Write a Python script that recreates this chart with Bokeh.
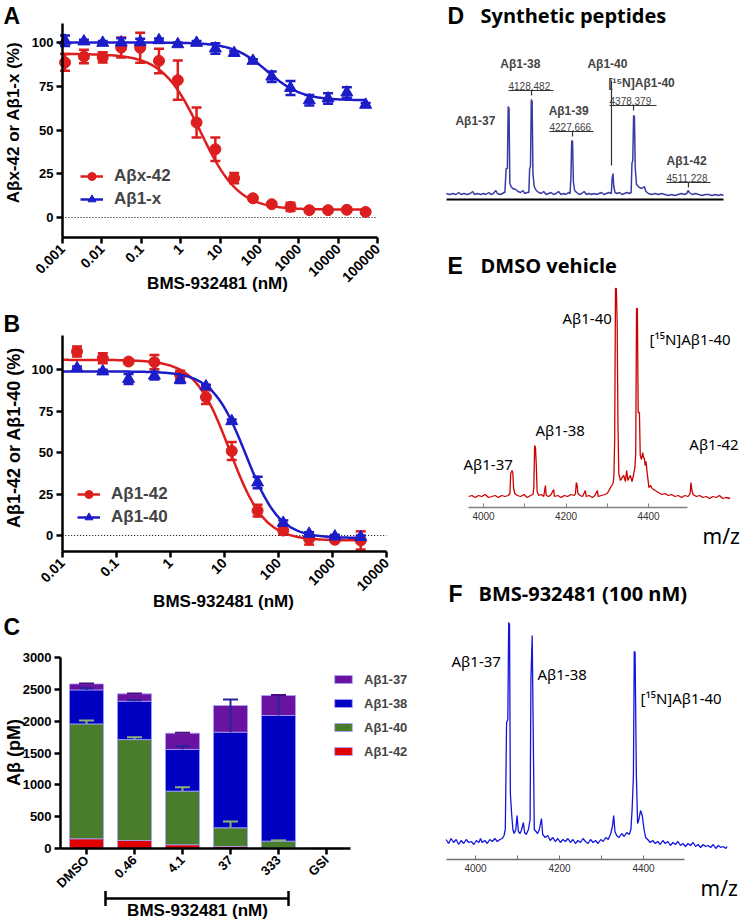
import numpy as np
from bokeh.plotting import figure
from bokeh.layouts import row, column
from bokeh.models import (ColumnDataSource, Whisker, TeeHead, Label, Legend, LegendItem,
                          FixedTicker, Arrow, Range1d)
from bokeh.embed import file_html
from bokeh.resources import INLINE

ARIAL = "Liberation Sans"
SANS = "Noto Sans"
TITLE = "Open Sans"
RED = "#dc1e1e"
BLUE = "#1c1cc8"

# ---------------- Panel A data ----------------
a_conc = [0.00116, 0.0035, 0.0105, 0.031, 0.094, 0.282, 0.847, 2.54, 7.62, 22.9,
          68.6, 206, 617, 1852, 5556, 16667, 50000]
a42_mean = [88.6, 92.0, 91.5, 97.1, 97.0, 89.5, 78.5, 54.3, 39.0, 22.5,
            11.0, 7.6, 6.1, 4.2, 4.2, 4.4, 3.2]
a42_err = [4.8, 3.8, 2.9, 5.7, 8.6, 7.0, 11.2, 8.6, 6.7, 2.9,
           1.0, 1.0, 2.4, 1.0, 1.0, 1.0, 1.0]
a1x_mean = [101.0, 100.6, 99.8, 100.0, 100.2, 101.3, 99.0, 99.8, 96.6, 94.0,
            89.5, 80.5, 74.0, 67.0, 68.0, 71.4, 64.4]
a1x_err = [3.0, 1.0, 1.0, 2.5, 2.0, 1.0, 1.0, 1.0, 3.0, 1.0,
           1.0, 3.0, 4.0, 3.0, 3.0, 3.0, 1.0]
a42_fit = [93.5, 4.5, 3.2, 0.9]      # top, bottom, IC50 (nM), Hill
a1x_fit = [100.0, 67.0, 160.0, 1.0]
a_xlim = [0.001, 100000]
a_ylim = [-11.4, 111]
a_ticks = [0.001, 0.01, 0.1, 1, 10, 100, 1000, 10000, 100000]
a_tick_labels = ["0.001", "0.01", "0.1", "1", "10", "100", "1000", "10000", "100000"]

# ---------------- Panel B data ----------------
b_conc = [0.0188, 0.0564, 0.169, 0.508, 1.52, 4.57, 13.7, 41.2, 123, 370, 1111, 3333]
b42_mean = [111.0, 107.0, 105.0, 104.6, 97.0, 83.5, 51.0, 15.0, 3.0, -2.0, -2.6, -3.0]
b42_err = [3.0, 3.0, 1.0, 4.3, 2.5, 4.2, 5.5, 3.6, 2.5, 3.5, 1.0, 5.5]
b40_mean = [101.0, 99.0, 94.5, 96.5, 94.0, 90.0, 69.0, 32.0, 7.6, 1.0, -0.6, -1.0]
b40_err = [1.0, 1.0, 3.0, 2.3, 2.0, 1.0, 1.0, 3.5, 1.5, 1.0, 1.0, 1.0]
b42_fit = [106.0, -3.0, 12.5, 1.35]
b40_fit = [99.0, -1.5, 25.0, 1.4]
b_xlim = [0.01, 10000]
b_ylim = [-9.7, 120.7]
b_ticks = [0.01, 0.1, 1, 10, 100, 1000, 10000]
b_tick_labels = ["0.01", "0.1", "1", "10", "100", "1000", "10000"]
pct_ticks = [0, 25, 50, 75, 100]

# ---------------- Panel C data ----------------
c_groups = ["DMSO", "0.46", "4.1", "37", "333", "GSI"]
c_ab42 = [157, 130, 63, 37, 10, 2]
c_ab40 = [1799, 1580, 840, 292, 110, 3]
c_ab38 = [532, 600, 652, 1497, 1967, 3]
c_ab37 = [94, 116, 255, 417, 313, 2]
c_ab40_err = [52, 36, 62, 99, 12, 0]
c_ab38_err = [26, 15, 52, 511, 323, 0]
c_ab37_err = [8, 5, 8, 0, 8, 0]
c_yticks = [0, 500, 1000, 1500, 2000, 2500, 3000]
c_names = ["Aβ1-42", "Aβ1-40", "Aβ1-38", "Aβ1-37"]
c_colors = ["#e00000", "#4a7d2b", "#0000c0", "#6a13a0"]

# ---------------- Spectra (m/z, intensity in arbitrary units) ----------------
d_mz = [3922, 3930, 3938, 3945, 3952, 3958, 3965, 3972, 3980, 3986, 3990, 3998, 4005, 4012, 4018, 4025, 4030, 4036, 4042, 4046, 4052, 4058, 4062,
        4064, 4067, 4070, 4072, 4074, 4076, 4079, 4083, 4090, 4096,
        4102, 4108, 4112, 4118,
        4122, 4124, 4126, 4128, 4130, 4132, 4135, 4140,
        4146, 4152, 4158, 4164, 4170, 4176, 4182, 4188, 4194, 4200, 4206, 4212, 4218,
        4222, 4224, 4226, 4228, 4230, 4233,
        4238, 4244, 4250, 4256, 4262, 4268, 4274, 4280, 4286, 4292, 4298, 4304, 4310, 4316,
        4322, 4324, 4326, 4328, 4331,
        4336, 4342, 4348, 4354, 4360, 4366,
        4370, 4372, 4374, 4376, 4378, 4380, 4383, 4390, 4396, 4402, 4406,
        4412, 4420, 4428, 4436, 4444, 4452, 4460, 4468, 4476, 4484, 4492, 4500,
        4505, 4508, 4511,
        4518, 4526, 4534, 4542, 4550, 4558, 4566, 4574, 4582, 4588, 4594]
d_int = [5, 4, 5, 4, 6, 4, 5, 4, 5, 7, 4, 5, 4, 5, 4, 6, 4, 5, 8, 5, 4, 5, 6,
         6, 30, 30, 92, 90, 15, 12, 10, 9, 7,
         6, 8, 5, 6,
         6, 30, 32, 99, 97, 25, 12, 8,
         6, 5, 7, 4, 5, 6, 4, 5, 7, 4, 5, 4, 6,
         5, 21, 58, 57, 17, 8,
         6, 4, 5, 7, 4, 5, 4, 5, 4, 5, 6, 4, 5, 6,
         5, 20, 25, 12, 6,
         5, 6, 4, 5, 6, 5,
         6, 35, 38, 83, 82, 30, 14, 11, 10, 12, 7,
         5, 4, 5, 4, 5, 4, 3, 4, 3, 4, 5, 4,
         5, 8, 6,
         4, 5, 4, 3, 4, 4, 3, 4, 3, 4, 3]

e_mz = [3964, 3972, 3980, 3988, 3996, 4004, 4012, 4020, 4028, 4036, 4044, 4052, 4060,
        4064, 4066, 4069, 4071, 4073, 4076,
        4082, 4090, 4098, 4106, 4114, 4120,
        4122, 4124, 4126, 4128, 4130, 4134,
        4140, 4146, 4150, 4152, 4158, 4164, 4170, 4172, 4180, 4188, 4196, 4204, 4212, 4220,
        4223, 4225, 4227, 4229,
        4234, 4240, 4247, 4249, 4256, 4264, 4270, 4276, 4278, 4286, 4294, 4300, 4308, 4314,
        4316, 4318, 4320, 4322, 4324, 4326, 4328,
        4332, 4336, 4340, 4344, 4347, 4350, 4353, 4356, 4360, 4364, 4367,
        4369, 4371, 4373, 4375, 4378, 4380, 4383, 4386, 4388, 4390, 4392, 4394, 4397, 4401,
        4405, 4409, 4416, 4424, 4432, 4440, 4448, 4456, 4464, 4472, 4480, 4488, 4496,
        4501, 4503, 4505, 4508,
        4516, 4524, 4532, 4540, 4548, 4556, 4564, 4572, 4580, 4588, 4598]
e_int = [11, 12, 10, 12, 11, 13, 10, 11, 12, 10, 12, 11, 12,
         14, 34, 37, 35, 19, 14,
         12, 11, 13, 10, 12, 13,
         20, 62, 60, 42, 16, 12,
         13, 11, 22, 12, 11, 13, 18, 11, 12, 10, 12, 11, 13, 12,
         14, 25, 22, 14,
         12, 11, 17, 11, 12, 10, 12, 17, 11, 12, 13, 14, 20, 24,
         30, 67, 219, 219, 185, 82, 34,
         27, 30, 32, 26, 37, 27, 30, 32, 26, 33, 40,
         54, 199, 199, 95, 95, 52, 48, 55, 50, 49, 42, 46, 34, 20,
         22, 19, 17, 15, 13, 14, 12, 13, 11, 12, 10, 12, 11,
         14, 25, 18, 13,
         11, 12, 10, 11, 9, 11, 10, 12, 9, 10, 9]

f_mz = [3930, 3936, 3942, 3948, 3954, 3960, 3966, 3972, 3978, 3984, 3990, 3996, 4002, 4008, 4012, 4016, 4022, 4028, 4034, 4040, 4046, 4052, 4058, 4064, 4068,
        4071, 4074, 4077, 4079, 4081, 4083, 4086, 4089,
        4092, 4096, 4099, 4102, 4106, 4110, 4114, 4117, 4121, 4126,
        4130, 4132, 4135, 4137, 4140,
        4144, 4148, 4152, 4157, 4160, 4166, 4172, 4178, 4184, 4190, 4196, 4202, 4208, 4214, 4220, 4226, 4232, 4238, 4244, 4250,
        4256, 4262, 4268, 4274, 4280, 4286, 4292, 4298, 4304, 4310, 4316, 4322, 4326, 4329, 4332, 4336, 4342, 4348, 4354, 4360, 4366, 4370,
        4373, 4376, 4378, 4380, 4381, 4383, 4386,
        4389, 4393, 4397, 4401, 4405, 4410, 4416, 4422, 4428, 4434, 4440, 4446, 4452, 4458, 4464, 4470, 4476, 4482, 4488, 4494,
        4500, 4506, 4512, 4518, 4524, 4530, 4536, 4542, 4548, 4554, 4560, 4566, 4572, 4578, 4584, 4590, 4596, 4599]
f_int = [20, 16, 21, 17, 20, 15, 19, 16, 20, 17, 18, 15, 19, 17, 21, 17, 19, 16, 20, 18, 21, 18, 20, 21, 24,
         30, 137, 140, 237, 235, 66, 46, 30,
         26, 30, 44, 28, 26, 30, 37, 27, 25, 30,
         40, 181, 224, 144, 30,
         28, 26, 30, 41, 25, 22, 24, 19, 22, 18, 21, 17, 20, 18, 21, 17, 20, 16, 19, 17,
         21, 18, 16, 20, 17, 19, 16, 20, 18, 22, 20, 26, 33, 44, 28, 24, 22, 26, 23, 27, 25, 30,
         51, 84, 208, 207, 164, 84, 36,
         40, 49, 44, 31, 22, 20, 17, 19, 16, 18, 15, 19, 16, 18, 14, 17, 15, 18, 14, 16,
         13, 16, 14, 17, 13, 15, 12, 15, 13, 14, 12, 15, 11, 14, 12, 13, 11, 13]

# peak annotations (m/z, intensity units)
d_lbl_text = ["Aβ1-37", "Aβ1-38", "Aβ1-39", "Aβ1-40", "[¹⁵N]Aβ1-40", "Aβ1-42"]
d_lbl_mz = [3944, 4053, 4170, 4264, 4315, 4456]
d_lbl_y = [78, 135, 88, 135, 116, 38]
d_mass_text = ["4128.482", "4227.666", "4378.379", "4511.228"]
d_mass_peak = [4128.5, 4227.9, 4375.8, 4509.0]
d_mass_left = [4072.7, 4172.0, 4317.6, 4455.8]
d_mass_right = [4181.8, 4278.8, 4431.5, 4562.4]
d_mass_y = [113, 72, 98, 21]
d_pointer = [4322.4, 118, 33]

e_lbl_text = ["Aβ1-37", "Aβ1-38", "Aβ1-40", "[¹⁵N]Aβ1-40", "Aβ1-42"]
e_lbl_mz = [3951.5, 4126, 4191.5, 4402.4, 4499.0]
e_lbl_y = [44, 78, 190, 169, 64]

f_lbl_text = ["Aβ1-37", "Aβ1-38", "[¹⁵N]Aβ1-40"]
f_lbl_mz = [3942.9, 4147.6, 4392.9]
f_lbl_y = [199, 186, 162]

mz_ticks = [4000, 4200, 4400]
mz_minor = [4100, 4300]

# ---------------- layout geometry (page pixels: canvas box, and where two data values fall) ----------------
GEO = {
    "A": dict(box=(0, 0, 418, 296), x=((0.001, 62), (100000, 377)), y=((0, 217), (100, 42)), log=True),
    "B": dict(box=(0, 296, 418, 612), x=((0.01, 61.7), (10000, 386)), y=((0, 535), (100, 369.3)), log=True),
    "C": dict(box=(0, 612, 418, 920), x=((0, 86), (5, 326)), y=((0, 848.3), (3000, 656.7)), log=False),
    "D": dict(box=(418, 0, 741, 210), x=((4000, 478), (4200, 560.5)), y=((0, 198), (100, 98)), log=False),
    "E": dict(box=(418, 210, 741, 550), x=((4000, 483), (4200, 565.5)), y=((0, 507), (100, 407)), log=False),
    "F": dict(box=(418, 550, 741, 920), x=((4000, 475), (4200, 559)), y=((0, 859), (100, 759)), log=False),
}


def span(d0, p0, d1, p1, c0, c1, log=False):
    if log:
        d0, d1 = np.log10(d0), np.log10(d1)
    s = (d1 - d0) / (p1 - p0)
    lo, hi = d0 + (c0 - p0) * s, d0 + (c1 - p0) * s
    return (10 ** lo, 10 ** hi) if log else (lo, hi)


def make_fig(key, **kw):
    g = GEO[key]
    x0, y0, x1, y1 = g["box"]
    (dx0, px0), (dx1, px1) = g["x"]
    (dy0, py0), (dy1, py1) = g["y"]
    xr = span(dx0, px0, dx1, px1, x0, x1, g["log"])
    yr = span(dy0, -py0, dy1, -py1, -y1, -y0)
    p = figure(width=x1 - x0, height=y1 - y0, x_range=Range1d(*xr), y_range=Range1d(*yr),
               x_axis_type="log" if g["log"] else "linear", output_backend="svg", toolbar_location=None,
               min_border=0, min_border_left=0, min_border_right=0, min_border_top=0, min_border_bottom=0,
               **kw)
    p.grid.visible = False
    p.outline_line_color = None
    p.background_fill_color = "white"
    return p


def page_xy(key, rx, ry):
    x0, y0, x1, y1 = GEO[key]["box"]
    return rx - x0, y1 - ry


def page_text(p, key, txt, rx, ry, font, size, style="bold", align="left", baseline="middle",
              color="black", angle=0.0):
    sx, sy = page_xy(key, rx, ry)
    p.add_layout(Label(x=sx, y=sy, x_units="screen", y_units="screen", text=txt, text_font=font,
                       text_font_style=style, text_font_size=size, text_align=align,
                       text_baseline=baseline, text_color=color, angle=angle))


def four_pl(x, top, bottom, ic50, hill):
    return bottom + (top - bottom) / (1.0 + (x / ic50) ** hill)


def style_axes(p, fs="13px"):
    for ax in p.axis:
        ax.axis_line_width = 2.5
        ax.axis_line_color = "black"
        ax.major_tick_line_width = 2.5
        ax.major_tick_line_color = "black"
        ax.major_tick_out = 6
        ax.major_tick_in = 0
        ax.minor_tick_line_color = None
        ax.major_label_text_font = ARIAL
        ax.major_label_text_font_style = "bold"
        ax.major_label_text_font_size = fs
        ax.major_label_text_color = "black"
        ax.major_label_standoff = 3


def add_series(p, conc, mean, err, fit, color, marker, size, xmin):
    xs = np.logspace(np.log10(xmin), np.log10(conc[-1]), 300)
    line = p.line(xs, four_pl(xs, *fit), line_color=color, line_width=2.5)
    m = np.array(mean)
    e = np.array(err)
    src = ColumnDataSource(dict(x=conc, y=mean, lo=list(m - e), hi=list(m + e)))
    p.add_layout(Whisker(source=src, base="x", lower="lo", upper="hi", line_color=color, line_width=2.5,
                         upper_head=TeeHead(size=10, line_color=color, line_width=2.5),
                         lower_head=TeeHead(size=10, line_color=color, line_width=2.5)))
    sc = p.scatter("x", "y", source=src, marker=marker, size=size, fill_color=color, line_color=color)
    return line, sc


def dose_legend(p, key, items, rx, ry_bottom):
    p.add_layout(Legend(items=items, location=page_xy(key, rx, ry_bottom), padding=0, margin=0, spacing=3,
                        glyph_width=23, glyph_height=20, label_height=20, label_standoff=11,
                        label_text_font=ARIAL, label_text_font_style="bold", label_text_font_size="17px",
                        border_line_alpha=0, background_fill_alpha=0))


def dose_axes(p, xlim, ylim, ticks, labels):
    p.xaxis.fixed_location = ylim[0]
    p.xaxis.bounds = tuple(xlim)
    p.yaxis.fixed_location = xlim[0]
    p.yaxis.bounds = tuple(ylim)
    p.xaxis.ticker = FixedTicker(ticks=ticks, minor_ticks=[])
    p.xaxis.major_label_overrides = dict(zip(ticks, labels))
    p.xaxis.major_label_orientation = np.pi / 4
    p.yaxis.ticker = FixedTicker(ticks=pct_ticks, minor_ticks=[])
    style_axes(p)
    p.xaxis.major_label_text_font_size = "14px"


# ================= Panel A =================
pA = make_fig("A")
pA.line(a_xlim, [0, 0], line_dash="1 2", line_color="black", line_width=1)
lr, sr = add_series(pA, a_conc, a42_mean, a42_err, a42_fit, RED, "circle", 11, a_xlim[0])
lb, sb = add_series(pA, a_conc, a1x_mean, a1x_err, a1x_fit, BLUE, "triangle", 12, a_xlim[0])
dose_axes(pA, a_xlim, a_ylim, a_ticks, a_tick_labels)
dose_legend(pA, "A", [LegendItem(label="Aβx-42", renderers=[lr, sr]),
                      LegendItem(label="Aβ1-x", renderers=[lb, sb])], 80, 209)
page_text(pA, "A", "Aβx-42 or Aβ1-x (%)", 13, 122, ARIAL, "17px", align="center", angle=np.pi / 2)
page_text(pA, "A", "BMS-932481 (nM)", 217, 283, ARIAL, "17px", align="center")
page_text(pA, "A", "A", 3, 15, ARIAL, "23px")

# ================= Panel B =================
pB = make_fig("B")
pB.line(b_xlim, [0, 0], line_dash="1 2", line_color="black", line_width=1)
lr2, sr2 = add_series(pB, b_conc, b42_mean, b42_err, b42_fit, RED, "circle", 11, b_xlim[0])
lb2, sb2 = add_series(pB, b_conc, b40_mean, b40_err, b40_fit, BLUE, "triangle", 12, b_xlim[0])
dose_axes(pB, b_xlim, b_ylim, b_ticks, b_tick_labels)
dose_legend(pB, "B", [LegendItem(label="Aβ1-42", renderers=[lr2, sr2]),
                      LegendItem(label="Aβ1-40", renderers=[lb2, sb2])], 77, 527)
page_text(pB, "B", "Aβ1-42 or Aβ1-40 (%)", 13, 437, ARIAL, "18px", align="center", angle=np.pi / 2)
page_text(pB, "B", "BMS-932481 (nM)", 223, 601, ARIAL, "17px", align="center")
page_text(pB, "B", "B", 3, 323, ARIAL, "23px")

# ================= Panel C =================
c_x = list(range(len(c_groups)))
c_src = ColumnDataSource(dict(x=c_x, ab42=c_ab42, ab40=c_ab40, ab38=c_ab38, ab37=c_ab37))
pC = make_fig("C")
bars = pC.vbar_stack(["ab42", "ab40", "ab38", "ab37"], x="x", width=0.71, source=c_src,
                     fill_color=c_colors, line_color="#a4a4ff", line_width=0.8)
tops = np.cumsum(np.array([c_ab42, c_ab40, c_ab38, c_ab37]), axis=0)
err_sets = [(1, c_ab40_err, "#8fb377"), (2, c_ab38_err, "#2424a0"), (3, c_ab37_err, "#4a0a80")]
for idx, errs, col in err_sets:
    t = tops[idx]
    keep = [i for i, e in enumerate(errs) if e > 0]
    src = ColumnDataSource(dict(x=[c_x[i] for i in keep], lo=[float(t[i]) for i in keep],
                                hi=[float(t[i] + errs[i]) for i in keep]))
    pC.add_layout(Whisker(source=src, base="x", lower="lo", upper="hi", line_color=col, line_width=2,
                          upper_head=TeeHead(size=15, line_color=col, line_width=2), lower_head=None,
                          level="overlay"))
c_edge = [c_x[0] - 0.54, c_x[-1] + 0.5]
pC.xaxis.fixed_location = 0
pC.xaxis.bounds = tuple(c_edge)
pC.yaxis.fixed_location = c_edge[0]
pC.yaxis.bounds = (c_yticks[0], c_yticks[-1])
pC.xaxis.ticker = FixedTicker(ticks=c_x, minor_ticks=[])
pC.xaxis.major_label_overrides = dict(zip(c_x, c_groups))
pC.xaxis.major_label_orientation = np.pi / 4
pC.yaxis.ticker = FixedTicker(ticks=c_yticks, minor_ticks=[])
style_axes(pC)
pC.xaxis.major_label_text_font_size = "13px"
leg_items = [LegendItem(label=c_names[i], renderers=[bars[i]]) for i in [3, 2, 1, 0]]
pC.add_layout(Legend(items=leg_items, location=page_xy("C", 332, 761), padding=0, margin=0, spacing=4,
                     glyph_width=22, glyph_height=10, label_height=20, label_standoff=10,
                     label_text_font=ARIAL, label_text_font_style="bold", label_text_font_size="13px",
                     border_line_alpha=0, background_fill_alpha=0))
bx0, by = page_xy("C", 105, 898)
bx1, _ = page_xy("C", 288, 898)
pC.add_layout(Arrow(x_start=bx0, y_start=by, x_end=bx1, y_end=by, start_units="screen", end_units="screen",
                    line_width=2.5, line_color="black",
                    start=TeeHead(size=15, line_width=2.5, line_color="black"),
                    end=TeeHead(size=15, line_width=2.5, line_color="black")))
page_text(pC, "C", "Aβ (pM)", 13, 752, ARIAL, "18px", align="center", angle=np.pi / 2)
page_text(pC, "C", "BMS-932481 (nM)", 197, 910, ARIAL, "17px", align="center")
page_text(pC, "C", "C", 3, 626, ARIAL, "23px")


# ================= Spectra =================
def mz_axis(p, bounds, color):
    ax = p.xaxis[0]
    ax.fixed_location = 0
    ax.bounds = bounds
    ax.ticker = FixedTicker(ticks=mz_ticks, minor_ticks=mz_minor)
    ax.axis_line_color = color
    ax.axis_line_width = 1.3
    ax.major_tick_line_color = color
    ax.minor_tick_line_color = color
    ax.major_tick_in = 4
    ax.major_tick_out = 0
    ax.minor_tick_in = 4
    ax.minor_tick_out = 0
    ax.major_label_text_font = ARIAL
    ax.major_label_text_font_size = "10px"
    ax.major_label_text_color = "#333333"
    ax.major_label_standoff = 4


def peak_labels(p, texts, xs, ys, font, size, style, color):
    for t, x, y in zip(texts, xs, ys):
        p.add_layout(Label(x=x, y=y, text=t, text_font=font, text_font_size=size, text_font_style=style,
                           text_color=color, text_baseline="middle"))


# ---- D
pD = make_fig("D", y_axis_location=None)
pD.line(d_mz, d_int, line_color="#3a3aa4", line_width=1.5)
axD = pD.xaxis[0]
axD.fixed_location = -1
axD.bounds = (d_mz[0], d_mz[-1])
axD.ticker = FixedTicker(ticks=[], minor_ticks=[])
axD.axis_line_width = 2
axD.axis_line_color = "black"
axD.major_label_text_font_size = "0px"
peak_labels(pD, d_lbl_text, d_lbl_mz, d_lbl_y, ARIAL, "12px", "bold", "#444444")
peak_labels(pD, d_mass_text, d_mass_left, d_mass_y, ARIAL, "10px", "normal", "#444444")
ul_y = [y - 5 for y in d_mass_y]
pD.segment(x0=d_mass_left, x1=d_mass_right, y0=ul_y, y1=ul_y, line_color="#333333", line_width=1.2)
pD.segment(x0=d_mass_peak, x1=d_mass_peak, y0=ul_y, y1=[y - 5 for y in ul_y], line_color="#333333", line_width=1.2)
pD.segment(x0=[d_pointer[0]], x1=[d_pointer[0]], y0=[d_pointer[1]], y1=[d_pointer[2]], line_color="#333333",
           line_width=1.2)
page_text(pD, "D", "D", 447, 15, ARIAL, "23px")
page_text(pD, "D", "Synthetic peptides", 480, 15, TITLE, "20px")

# ---- E
pE = make_fig("E", y_axis_location=None)
pE.line(e_mz, e_int, line_color="#cc0000", line_width=1.3)
mz_axis(pE, (3964, 4495), "#808080")
peak_labels(pE, e_lbl_text, e_lbl_mz, e_lbl_y, SANS, "15px", "normal", "black")
page_text(pE, "E", "E", 447, 265, ARIAL, "23px")
page_text(pE, "E", "DMSO vehicle", 480, 265, TITLE, "20px")
page_text(pE, "E", "m/z", 702, 535, SANS, "21px", style="normal", baseline="alphabetic")

# ---- F
pF = make_fig("F", y_axis_location=None)
pF.line(f_mz, f_int, line_color="#1414e0", line_width=1.3)
mz_axis(pF, (3931, 4498), "#707070")
peak_labels(pF, f_lbl_text, f_lbl_mz, f_lbl_y, SANS, "15px", "normal", "black")
page_text(pF, "F", "F", 448, 593, ARIAL, "23px")
page_text(pF, "F", "BMS-932481 (100 nM)", 478, 593, TITLE, "20px")
page_text(pF, "F", "m/z", 700, 887, SANS, "21px", style="normal", baseline="alphabetic")

layout = row(column(pA, pB, pC), column(pD, pE, pF))
open("out.html", "w").write(file_html(layout, INLINE))
